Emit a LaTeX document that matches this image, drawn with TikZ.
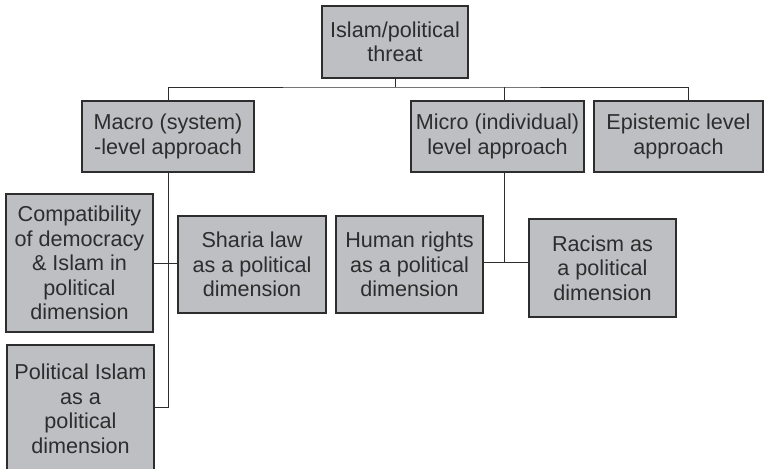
\documentclass[tikz,border=0pt]{standalone}
\usepackage{fontspec}
\setmainfont{Liberation Sans}
\usepackage{tikz}
\definecolor{boxgray}{RGB}{190,191,195}
\definecolor{inkgray}{RGB}{45,45,45}

\begin{document}
\begin{tikzpicture}[x=1pt, y=-1pt,
  level/.style ={rectangle, draw=inkgray, fill=boxgray, line width=1.1pt, inner sep=0pt,
                 align=center, text=inkgray, font=\fontsize{21.6}{24.5}\selectfont},
  link/.style ={draw=inkgray, line width=1pt}]
 \useasboundingbox (0,0) rectangle (764,469);
 \node[level, minimum width=146pt, minimum height=72pt] (threat) at (395,42) {Islam/political\\threat};
 \node[level, minimum width=172pt, minimum height=71pt] (macro) at (168,136.5) {Macro (system)\\-level approach};
 \node[level, minimum width=173pt, minimum height=71pt] (micro) at (497.5,136.5) {Micro (individual)\\level approach};
 \node[level, minimum width=169pt, minimum height=71pt] (epist) at (678.5,136.5) {Epistemic level\\approach};
 \node[level, minimum width=147pt, minimum height=138pt] (compat) at (79.5,263) {Compatibility\\of democracy\\\& Islam in\\political\\dimension};
 \node[level, minimum width=148pt, minimum height=97pt] (sharia) at (252,264.5) {Sharia law\\as a political\\dimension};
 \node[level, minimum width=147pt, minimum height=128pt] (polit) at (80.5,409) {Political Islam\\as a\\political\\dimension};
 \node[level, minimum width=147pt, minimum height=97pt] (human) at (409.5,264.5) {Human rights\\as a political\\dimension};
 \node[level, minimum width=147pt, minimum height=98pt] (racism) at (602.5,268) {Racism as\\a political\\dimension};
 \coordinate (bus) at (395,87);
 \coordinate (mj) at (504,262);
 \coordinate (pj) at (168,407);
 \draw[link] (threat.south) -- (bus);
 \draw[link] (macro.north) |- (bus) -| ([xshift=9.5pt]epist.north);
 \draw[link] ([xshift=6.5pt]micro.north) -- ([xshift=6.5pt]micro.north |- bus);
 \draw[link] (macro.south) -- (pj) -- (polit.east |- pj);
 \draw[link] (compat.east) -- (compat.east -| sharia.west);
 \draw[link] ([xshift=6.5pt]micro.south) -- (mj);
 \draw[link] (human.east |- mj) -- (racism.west |- mj);
\end{tikzpicture}
\end{document}
